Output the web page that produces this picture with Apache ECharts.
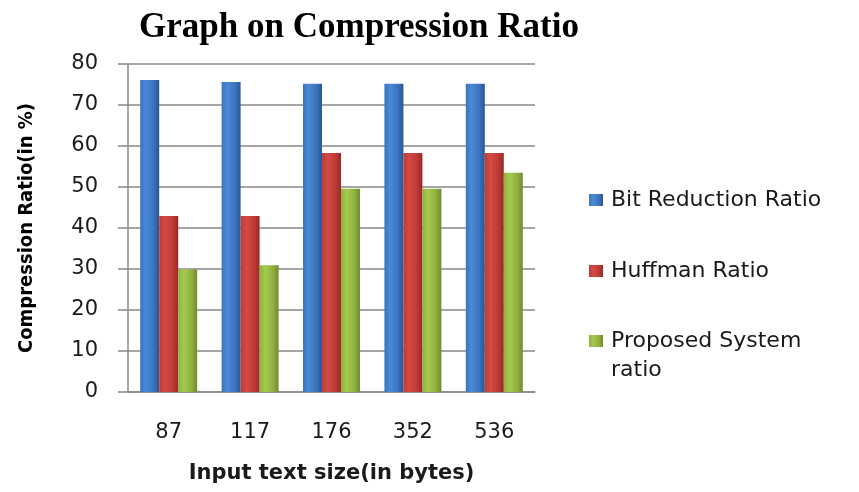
<!DOCTYPE html>
<html>
<head>
<meta charset="utf-8">
<script src="https://cdn.jsdelivr.net/npm/echarts@6/dist/echarts.min.js"></script>
<style>html,body{margin:0;padding:0;background:#fff}#c{width:859px;height:492px}</style>
</head>
<body>
<div id="c"></div>
<script>
const categories = ['87', '117', '176', '352', '536'];
const bitReduction = [76.1, 75.6, 75.2, 75.2, 75.2];
const huffman = [42.9, 42.9, 58.3, 58.3, 58.3];
const proposed = [29.9, 30.9, 49.6, 49.6, 53.5];
const seriesNames = ['Bit Reduction Ratio', 'Huffman Ratio', 'Proposed System ratio'];
const legendLabels = ['Bit Reduction Ratio', 'Huffman Ratio', ' \nProposed System\nratio'];
const yTicks = [0, 10, 20, 30, 40, 50, 60, 70, 80];

function grad(light, mid, dark) {
  return new echarts.graphic.LinearGradient(0, 0, 1, 0, [
    {offset: 0, color: mid},
    {offset: 0.3, color: light},
    {offset: 0.7, color: mid},
    {offset: 1, color: dark}
  ]);
}
const blue = grad('#4a8ad6', '#3b74c0', '#2b5690');
const red = grad('#d44a44', '#c03a36', '#962a27');
const green = grad('#a6c94e', '#8fb13f', '#6f8c2e');

const LH = 29;
function legendAt(top, idx) {
  return {
    orient: 'vertical', icon: 'rect', itemWidth: 14, itemHeight: 12, left: 584, top: top,
    data: [seriesNames[idx]],
    formatter: () => legendLabels[idx],
    textStyle: {fontFamily: 'DejaVu Sans', fontSize: 22, color: '#1a1a1a', lineHeight: LH, padding: [0, 0, 0, 3]}
  };
}

const chart = echarts.init(document.getElementById('c'), null, {renderer: 'canvas'});
chart.setOption({
  animation: false,
  title: {
    text: 'Graph on Compression Ratio', left: 354, top: 5, textAlign: 'center',
    textStyle: {fontFamily: 'Liberation Serif', fontWeight: 'bold', fontSize: 35, color: '#000'}
  },
  legend: [
    legendAt(197 - LH / 2 - 2, 0),
    legendAt(268 - LH / 2 - 2, 1),
    legendAt(338 - LH * 1.5 - 2, 2)
  ],
  grid: {left: 128, right: 324, top: 64, bottom: 100, containLabel: false},
  xAxis: {
    type: 'category', data: categories,
    name: 'Input text size(in bytes)', nameLocation: 'middle', nameGap: 71,
    nameTextStyle: {fontFamily: 'DejaVu Sans', fontWeight: 'bold', fontSize: 21, color: '#1a1a1a'},
    axisLine: {lineStyle: {color: '#888', width: 1.5}},
    axisTick: {show: false},
    axisLabel: {fontFamily: 'DejaVu Sans', fontSize: 21, color: '#1a1a1a', margin: 30}
  },
  yAxis: {
    type: 'value', min: 0, max: 80, interval: 10,
    name: 'Compression Ratio(in %)', nameLocation: 'middle', nameGap: 91, nameRotate: 90,
    nameTextStyle: {fontFamily: 'DejaVu Sans Condensed', fontWeight: 'bold', fontSize: 20, color: '#000'},
    axisLine: {show: true, lineStyle: {color: '#888', width: 1.5}},
    axisTick: {show: true, inside: false, length: 10, lineStyle: {color: '#888', width: 1.5}},
    axisLabel: {fontFamily: 'DejaVu Sans', fontSize: 21, color: '#1a1a1a', margin: 30,
      formatter: v => yTicks.includes(v) ? String(v) : ''},
    splitLine: {show: true, lineStyle: {color: '#888', width: 1.5}}
  },
  series: [
    {name: seriesNames[0], type: 'bar', data: bitReduction, barGap: '0%', barCategoryGap: '30%', itemStyle: {color: blue}},
    {name: seriesNames[1], type: 'bar', data: huffman, barGap: '0%', barCategoryGap: '30%', itemStyle: {color: red}},
    {name: seriesNames[2], type: 'bar', data: proposed, barGap: '0%', barCategoryGap: '30%', itemStyle: {color: green}}
  ]
});
</script>
</body>
</html>
